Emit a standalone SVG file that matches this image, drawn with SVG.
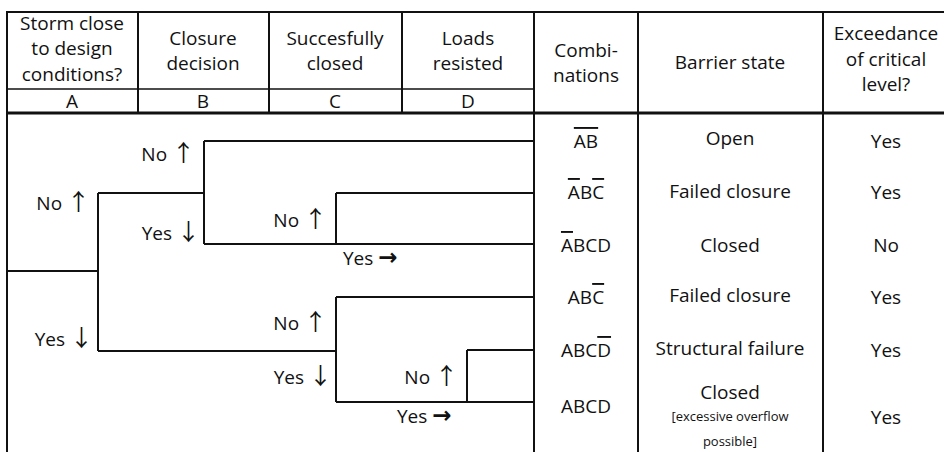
<svg xmlns="http://www.w3.org/2000/svg" width="944" height="452" viewBox="0 0 944 452">
<style>
  .t { font-family: "Open Sans", "DejaVu Sans", sans-serif; font-size: 19px; fill: #111; }
  .c { text-anchor: middle; }
  .e { text-anchor: end; }
  .s { font-size: 13px; }
  .ov { text-decoration: overline; }
  .ar { font-family: "Noto Sans CJK JP", "DejaVu Sans", sans-serif; font-size: 23px; }
  .arr { font-family: "DejaVu Sans", sans-serif; font-size: 23px; font-weight: bold; }
  .ln { stroke: #111; stroke-width: 2; fill: none; }
  .thick { stroke: #111; stroke-width: 3; fill: none; }
  .thin { stroke: #111; stroke-width: 1.5; fill: none; }
</style>
<rect width="944" height="452" fill="#fff"/>

<g id="table-grid">
  <path class="ln" d="M6,12 H944"/>
  <path class="thick" d="M6,113 H944"/>
  <path class="thin" d="M7,89 H534"/>
  <path class="ln" d="M7,12 V452 M138,12 V113 M269,12 V113 M402,12 V113 M534,12 V452 M638,12 V452 M823,12 V452"/>
</g>

<g id="header-A">
  <text class="t c" x="72" y="30">Storm close</text>
  <text class="t c" x="72" y="55">to design</text>
  <text class="t c" x="72" y="81">conditions?</text>
  <text class="t c" x="72" y="108">A</text>
</g>
<g id="header-B">
  <text class="t c" x="203" y="45">Closure</text>
  <text class="t c" x="203" y="70">decision</text>
  <text class="t c" x="203" y="108">B</text>
</g>
<g id="header-C">
  <text class="t c" x="335" y="45">Succesfully</text>
  <text class="t c" x="335" y="70">closed</text>
  <text class="t c" x="335" y="108">C</text>
</g>
<g id="header-D">
  <text class="t c" x="468" y="45">Loads</text>
  <text class="t c" x="468" y="70">resisted</text>
  <text class="t c" x="468" y="108">D</text>
</g>
<g id="header-combinations">
  <text class="t c" x="586" y="57">Combi-</text>
  <text class="t c" x="586" y="82">nations</text>
</g>
<g id="header-barrier">
  <text class="t c" x="730" y="69">Barrier state</text>
</g>
<g id="header-exceedance">
  <text class="t c" x="886" y="40">Exceedance</text>
  <text class="t c" x="886" y="66">of critical</text>
  <text class="t c" x="886" y="91">level?</text>
</g>

<g id="connectors">
  <path class="ln" d="M7,271 H98 M98,193 V351 M98,193 H204 M204,141 V244 M204,141 H534 M204,244 H534 M336,193 V244 M336,193 H534 M98,351 H336 M336,297 V402 M336,297 H534 M336,402 H534 M467,350 V402 M467,350 H534"/>
</g>

<g id="branch-labels">
  <text class="t e" x="90" y="210">No <tspan class="ar">↑</tspan></text>
  <text class="t e" x="93" y="346">Yes <tspan class="ar">↓</tspan></text>
  <text class="t e" x="195" y="161">No <tspan class="ar">↑</tspan></text>
  <text class="t e" x="200" y="240">Yes <tspan class="ar">↓</tspan></text>
  <text class="t e" x="327" y="227">No <tspan class="ar">↑</tspan></text>
  <text class="t" x="343" y="265">Yes <tspan class="arr">→</tspan></text>
  <text class="t e" x="327" y="330">No <tspan class="ar">↑</tspan></text>
  <text class="t e" x="332" y="384">Yes <tspan class="ar">↓</tspan></text>
  <text class="t e" x="458" y="384">No <tspan class="ar">↑</tspan></text>
  <text class="t" x="397" y="423">Yes <tspan class="arr">→</tspan></text>
</g>

<g id="row-1">
  <text class="t c" x="586" y="148"><tspan class="ov">AB</tspan></text>
  <text class="t c" x="730" y="145">Open</text>
  <text class="t c" x="886" y="148">Yes</text>
</g>
<g id="row-2">
  <text class="t c" x="586" y="199"><tspan class="ov">A</tspan>B<tspan class="ov">C</tspan></text>
  <text class="t c" x="730" y="198">Failed closure</text>
  <text class="t c" x="886" y="199">Yes</text>
</g>
<g id="row-3">
  <text class="t c" x="586" y="252"><tspan class="ov">A</tspan>BCD</text>
  <text class="t c" x="730" y="252">Closed</text>
  <text class="t c" x="886" y="252">No</text>
</g>
<g id="row-4">
  <text class="t c" x="586" y="304">AB<tspan class="ov">C</tspan></text>
  <text class="t c" x="730" y="302">Failed closure</text>
  <text class="t c" x="886" y="304">Yes</text>
</g>
<g id="row-5">
  <text class="t c" x="586" y="357">ABC<tspan class="ov">D</tspan></text>
  <text class="t c" x="730" y="355">Structural failure</text>
  <text class="t c" x="886" y="357">Yes</text>
</g>
<g id="row-6">
  <text class="t c" x="586" y="413">ABCD</text>
  <text class="t c" x="730" y="399">Closed</text>
  <text class="t c s" x="730" y="421">[excessive overflow</text>
  <text class="t c s" x="730" y="446">possible]</text>
  <text class="t c" x="886" y="424">Yes</text>
</g>
</svg>
